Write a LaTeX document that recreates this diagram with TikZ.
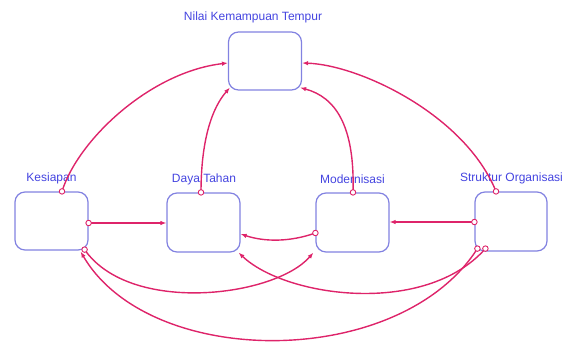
\documentclass[tikz,border=0pt]{standalone}
\usepackage{fontspec}
\setmainfont{Liberation Sans}
\usetikzlibrary{arrows.meta,calc}
\definecolor{linkc}{RGB}{222,36,106}
\definecolor{boxc}{RGB}{130,130,225}
\definecolor{txtc}{RGB}{68,68,224}
\begin{document}
\begin{tikzpicture}[x=1pt,y=-1pt,
  stock/.style={draw=boxc, line width=1.2pt, rounded corners=10pt, minimum width=73pt, minimum height=58pt, inner sep=0pt, fill=white},
  lbl/.style={text=txtc, font=\fontsize{12}{14}\selectfont, inner sep=0pt},
  link/.style={draw=linkc, line width=1.4pt, -{Latex[length=6pt,width=4.5pt]}},
  src/.style={circle, draw=linkc, fill=white, line width=0.9pt, minimum size=5.5pt, inner sep=0pt}
]
\useasboundingbox (0,0) rectangle (576,345);
\node[stock] (nkt) at (265,61) {};
\node[stock] (kes) at (51.5,221) {};
\node[stock, minimum height=59pt] (dt) at (203.5,222.5) {};
\node[stock, minimum height=59pt] (mod) at (352.5,222.5) {};
\node[stock, minimum width=72pt, minimum height=59pt] (so) at (511,221.5) {};

\node[lbl] (nktl) at (253,17) {Nilai Kemampuan Tempur};
\node[lbl] (kesl) at (51.5,178) {Kesiapan};
\node[lbl] (dtl) at (204,179) {Daya Tahan};
\node[lbl] (modl) at (352.5,179) {Modernisasi};
\node[lbl] (sol) at (511.5,178) {Struktur Organisasi};

% to Nilai Kemampuan Tempur
\draw[link] ($(kes.north)+(10.5,0)$) .. controls (78,140) and (150,72) .. ($(nkt.west)+(0,2)$) node[src,pos=0]{};
\draw[link] ($(dt.north)+(-2.5,0)$) .. controls (201,140) and (212,108) .. ($(nkt.south west)+(2,-3)$) node[src,pos=0]{};
\draw[link] ($(mod.north)+(0.5,0)$) .. controls (355,125) and (335,97) .. ($(nkt.south east)+(-2,-3)$) node[src,pos=0]{};
\draw[link] ($(so.north)+(-15,0)$) .. controls (465,115) and (360,65) .. ($(nkt.east)+(0,2)$) node[src,pos=0]{};

% straight links
\draw[link] ($(kes.east)+(0,2)$) -- ($(dt.west)+(0,0.5)$) node[src,pos=0]{};
\draw[link] ($(so.west)+(0,0.5)$) -- ($(mod.east)+(0,-0.5)$) node[src,pos=0]{};

% lower links
\draw[link] ($(mod.west)+(0,10.5)$) .. controls (290,242) and (265,242) .. ($(dt.east)+(0,11.5)$) node[src,pos=0]{};
\draw[link] ($(kes.south east)+(-4,-1)$) .. controls (130,315) and (275,297) .. ($(mod.south west)+(-2,0)$) node[src,pos=0]{};
\draw[link] ($(so.south west)+(11,-3)$) .. controls (425,317) and (285,297) .. ($(dt.south east)+(-2,0)$) node[src,pos=0]{};
\draw[link] ($(so.south west)+(3,-3)$) .. controls (400,370) and (150,370) .. ($(kes.south east)+(-8,1)$) node[src,pos=0]{};
\end{tikzpicture}
\end{document}
